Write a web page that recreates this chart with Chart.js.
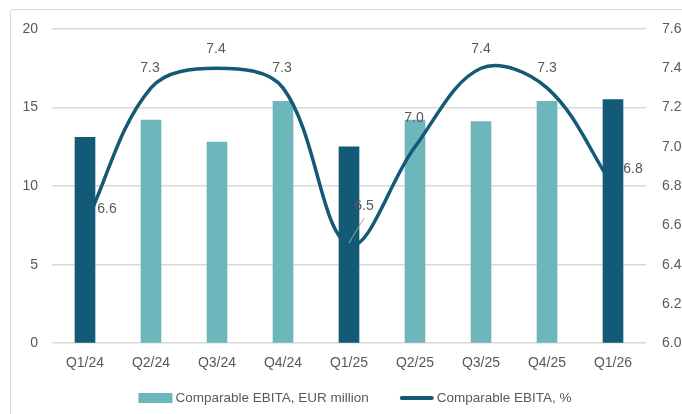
<!DOCTYPE html>
<html>
<head>
<meta charset="utf-8">
<script src="https://cdn.jsdelivr.net/npm/chart.js@4"></script>
<style>
  html, body { margin: 0; padding: 0; background: #ffffff; overflow: hidden; }
  #wrap { position: relative; width: 682px; height: 414px; }
  #frame { position: absolute; left: 10px; top: 9px; width: 720px; height: 460px; border: 1px solid #d9d9d9; border-radius: 3px; }
  canvas { position: absolute; left: 0; top: 0; }
</style>
</head>
<body>
<div id="wrap">
  <div id="frame"></div>
  <canvas id="c" width="682" height="414"></canvas>
</div>
<script>
// ---- data ----
const categories = ["Q1/24", "Q2/24", "Q3/24", "Q4/24", "Q1/25", "Q2/25", "Q3/25", "Q4/25", "Q1/26"];
const ebitaEur = [13.1, 14.2, 12.8, 15.4, 12.5, 14.2, 14.1, 15.4, 15.5];
const ebitaPct = [6.6, 7.3, 7.4, 7.3, 6.5, 7.0, 7.4, 7.3, 6.8];
const leftTicks = [0, 5, 10, 15, 20];
const rightTicks = [6.0, 6.2, 6.4, 6.6, 6.8, 7.0, 7.2, 7.4, 7.6];
const seriesNames = ["Comparable EBITA, EUR million", "Comparable EBITA, %"];

// ---- styles ----
const LIGHT = "#6DB6BC";
const DARK = "#125A76";
const TEXT = "#595959";
const GRID = "#D9D9D9";
const FONT = "'Liberation Sans', Arial, sans-serif";
// label offsets (px) relative to each line point, as placed in the reference
const labelOffsets = [[22, -16], [-1, -20], [-1, -19], [-1, -20], [15, -39], [-1, -29], [0, -19], [0, -20], [20, -17]];
const leaderLines = [false, false, false, false, true, false, false, false, false];
const LEGEND_Y = 398, LEGEND_CX = 355, SWATCH_W = 34, SWATCH_GAP = 3, ITEM_GAP = 31;

const barColors = categories.map(c => c.startsWith("Q1") ? DARK : LIGHT);

const pointLabels = {
  id: "pointLabels",
  afterDatasetsDraw(chart) {
    const meta = chart.getDatasetMeta(1);
    const ctx = chart.ctx;
    ctx.save();
    ctx.font = "14px " + FONT;
    ctx.fillStyle = TEXT;
    ctx.textAlign = "center";
    ctx.textBaseline = "middle";
    meta.data.forEach((pt, i) => {
      const [dx, dy] = labelOffsets[i];
      const lx = pt.x + dx, ly = pt.y + dy;
      if (leaderLines[i]) {
        ctx.strokeStyle = "#A6A6A6";
        ctx.lineWidth = 1;
        ctx.beginPath();
        ctx.moveTo(pt.x, pt.y - 2);
        ctx.lineTo(lx, ly + 12);
        ctx.stroke();
      }
      ctx.fillText(ebitaPct[i].toFixed(1), lx, ly);
    });
    ctx.restore();
  }
};

const bottomLegend = {
  id: "bottomLegend",
  afterDraw(chart) {
    const ctx = chart.ctx;
    ctx.save();
    ctx.font = "13.5px " + FONT;
    ctx.textBaseline = "middle";
    ctx.textAlign = "left";
    const w0 = ctx.measureText(seriesNames[0]).width;
    const w1 = ctx.measureText(seriesNames[1]).width;
    const total = SWATCH_W + SWATCH_GAP + w0 + ITEM_GAP + SWATCH_W + SWATCH_GAP + w1;
    let x = LEGEND_CX - total / 2;
    ctx.fillStyle = LIGHT;
    ctx.fillRect(x, LEGEND_Y - 5, SWATCH_W, 10);
    x += SWATCH_W + SWATCH_GAP;
    ctx.fillStyle = TEXT;
    ctx.fillText(seriesNames[0], x, LEGEND_Y);
    x += w0 + ITEM_GAP;
    ctx.strokeStyle = DARK;
    ctx.lineWidth = 4;
    ctx.lineCap = "round";
    ctx.beginPath();
    ctx.moveTo(x + 2, LEGEND_Y);
    ctx.lineTo(x + SWATCH_W - 2, LEGEND_Y);
    ctx.stroke();
    x += SWATCH_W + SWATCH_GAP;
    ctx.fillText(seriesNames[1], x, LEGEND_Y);
    ctx.restore();
  }
};

new Chart(document.getElementById("c"), {
  type: "bar",
  data: {
    labels: categories,
    datasets: [
      {
        type: "bar",
        label: seriesNames[0],
        data: ebitaEur,
        backgroundColor: barColors,
        barThickness: 20,
        yAxisID: "y",
        order: 2
      },
      {
        type: "line",
        label: seriesNames[1],
        data: ebitaPct,
        borderColor: DARK,
        backgroundColor: DARK,
        borderWidth: 3.5,
        pointRadius: 0,
        tension: 0.36,
        yAxisID: "y1",
        order: 1
      }
    ]
  },
  options: {
    responsive: false,
    animation: false,
    devicePixelRatio: 1,
    layout: { padding: { top: 29, bottom: 30, left: 0, right: 0 } },
    plugins: {
      tooltip: { enabled: false },
      legend: { display: false }
    },
    scales: {
      x: {
        grid: { display: false, drawTicks: false },
        border: { display: false },
        ticks: { color: TEXT, font: { family: FONT, size: 14 }, padding: 12, maxRotation: 0 }
      },
      y: {
        position: "left",
        min: leftTicks[0],
        max: leftTicks[leftTicks.length - 1],
        afterBuildTicks(scale) { scale.ticks = leftTicks.map(v => ({ value: v })); },
        afterFit(scale) { scale.width = 52; },
        grid: { color: GRID, lineWidth: 1.5, drawTicks: false },
        border: { display: false },
        ticks: { color: TEXT, font: { family: FONT, size: 14 }, padding: 14 }
      },
      y1: {
        position: "right",
        min: rightTicks[0],
        max: rightTicks[rightTicks.length - 1],
        afterBuildTicks(scale) { scale.ticks = rightTicks.map(v => ({ value: v })); },
        afterFit(scale) { scale.width = 36; },
        grid: { display: false, drawTicks: false },
        border: { display: false },
        ticks: { color: TEXT, font: { family: FONT, size: 14 }, padding: 16, callback: v => Number(v).toFixed(1) }
      }
    }
  },
  plugins: [pointLabels, bottomLegend]
});
</script>
</body>
</html>
